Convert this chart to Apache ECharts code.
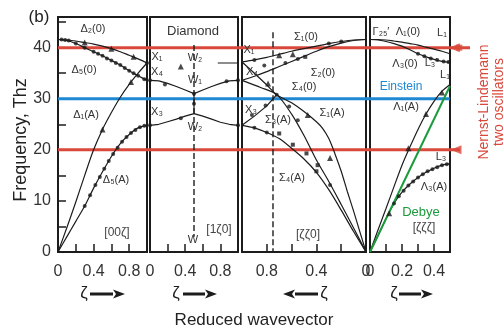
<!DOCTYPE html>
<html>
<head>
<meta charset="utf-8">
<script src="https://cdn.jsdelivr.net/npm/echarts/dist/echarts.min.js"></script>
<style>
  html, body { margin: 0; padding: 0; background: #fff; }
  #chart { width: 504px; height: 333px; }
</style>
</head>
<body>
<div id="chart"></div>
<script>
// ---- data (THz vs reduced wavevector) ----
// [00ζ]  Γ -> X
const zeta1 = [0, 0.1, 0.2, 0.3, 0.4, 0.5, 0.6, 0.7, 0.8, 0.9, 1.0];
const d2O = [41.6, 41.5, 41.3, 41.0, 40.7, 40.3, 39.8, 39.2, 38.5, 37.8, 37.0];
const d5O = [41.6, 41.4, 40.8, 40.0, 39.2, 38.4, 37.5, 36.6, 35.5, 34.5, 33.6];
const d1A = [0, 4.8, 9.8, 15.0, 20.0, 24.0, 27.3, 30.3, 32.8, 35.0, 37.0];
const d5A = [0, 3.0, 6.0, 9.0, 12.5, 15.7, 18.7, 21.2, 23.0, 24.3, 24.8];
const p1Dots = [[0.04, 41.6], [0.08, 41.5], [0.12, 41.4], [0.2, 40.8], [0.3, 40.0], [0.4, 39.2], [0.45, 38.8], [0.5, 38.4], [0.55, 37.9], [0.6, 37.5], [0.65, 37.0], [0.7, 36.6], [0.75, 36.0], [0.8, 35.5], [0.85, 35.0], [0.9, 34.5], [0.97, 33.8],
  [0.3, 9.0], [0.36, 11.1], [0.42, 13.1], [0.47, 14.7], [0.52, 16.3], [0.57, 17.8], [0.62, 19.2], [0.67, 20.4], [0.72, 21.6], [0.77, 22.5], [0.82, 23.3], [0.87, 23.9], [0.92, 24.4], [0.97, 24.7], [1.0, 37.0]];
const p1Tri = [[0.3, 41.0], [0.6, 39.8], [0.85, 38.2], [0.5, 24.0], [0.82, 33.3]];

// [1ζ0]  X -> W -> X
const zeta2 = [0, 0.1, 0.2, 0.3, 0.4, 0.5, 0.6, 0.7, 0.8, 0.9, 1.0];
const w1Branch = [33.6, 33.5, 33.0, 32.4, 31.7, 31.0, 31.7, 32.4, 33.0, 33.5, 33.6];
const w2Branch = [24.8, 25.0, 25.5, 26.0, 26.6, 27.1, 26.6, 26.0, 25.4, 25.0, 24.8];
const w2Upper = [[0.77, 37.0], [1.0, 37.0]];
const wStem = [[0.5, 27.1], [0.5, 31.0]];
const p2Dots = [[0, 33.6], [0, 24.8], [1, 33.6], [1, 24.8], [0.17, 32.8], [0.87, 33.4], [0.35, 26.2], [0.5, 29.0], [0.5, 31.0]];
const p2Tri = [[0.35, 36.3]];

// [ζζ0]  Γ -> K -> X (drawn right to left)
const zeta3 = [0, 0.1, 0.2, 0.3, 0.4, 0.5, 0.6, 0.7, 0.8, 0.9, 1.0];
const s1O = [41.6, 41.5, 41.2, 40.8, 40.3, 39.8, 39.3, 38.7, 38.1, 37.6, 37.2];
const s2O = [41.6, 41.4, 40.9, 40.2, 39.3, 38.3, 37.3, 36.3, 35.3, 34.4, 33.6];
const s4A = [0, 4.0, 8.2, 12.2, 15.6, 18.2, 20.3, 22.2, 23.4, 24.3, 24.8];
const s1AZeta = [1.0, 0.9, 0.8, 0.72, 0.6, 0.5, 0.4, 0.35, 0.3, 0.25, 0.2, 0.15, 0.1, 0.05, 0];
const s1A = [37.2, 35.0, 32.7, 30.8, 29.2, 27.5, 25.5, 24.2, 22.2, 19.2, 15.8, 11.8, 8.0, 4.0, 0];
const s3AZeta = [1.0, 0.85, 0.72, 0.6, 0.5, 0.4, 0.3, 0.2, 0.1, 0];
const s3A = [33.6, 32.2, 30.8, 27.0, 22.8, 18.0, 13.8, 9.3, 4.7, 0];
const x3UpZeta = [1.0, 0.9, 0.8, 0.72];
const x3Up = [24.8, 26.6, 28.6, 30.8];
const p3Sq = [[0.70, 23.2], [0.59, 21.0], [0.48, 19.3], [0.39, 17.0], [0.40, 15.8], [0.49, 38.2]];
const p3Tri = [[0.70, 38.5], [0.59, 38.7], [0.79, 33.0], [0.47, 26.8], [0.29, 18.4]];
const p3Dots = [[0.9, 37.6], [0.82, 36.5], [0.65, 37.0], [0.55, 37.8], [0.3, 40.8], [0.2, 41.2], [0.92, 26.8], [0.81, 28.7], [0.72, 30.8], [0.62, 28.5], [0.55, 25.8], [0.29, 13.1], [0.9, 24.3], [0.8, 23.4]];

// [ζζζ]  Γ -> L
const zeta4 = [0, 0.05, 0.1, 0.15, 0.2, 0.25, 0.3, 0.35, 0.4, 0.45, 0.5];
const l1O = [41.6, 41.6, 41.5, 41.3, 41.1, 40.8, 40.5, 40.1, 39.7, 39.3, 38.8];
const l3O = [41.6, 41.5, 41.2, 40.8, 40.3, 39.6, 38.8, 38.2, 37.7, 37.3, 37.1];
const l1A = [0, 4.3, 8.5, 12.8, 17.0, 20.6, 24.0, 27.0, 29.5, 31.5, 32.8];
const l3A = [0, 3.2, 6.5, 9.5, 11.7, 13.3, 14.6, 15.6, 16.4, 17.0, 17.3];
const debyeZeta = [0, 0.5];
const debye = [0, 32.5];
const p4Dots = [[0.15, 9.5], [0.18, 10.9], [0.21, 12.0], [0.24, 13.0], [0.27, 13.8], [0.3, 14.6], [0.33, 15.2], [0.36, 15.8], [0.39, 16.2], [0.42, 16.6], [0.45, 17.0], [0.48, 17.2],
  [0.3, 38.8], [0.34, 38.3], [0.38, 37.9], [0.42, 37.6], [0.46, 37.3], [0.49, 37.2]];
const p4Tri = [[0.24, 20.3], [0.35, 27.0], [0.45, 31.2], [0.12, 7.6]];

// reference levels
const nlFreq = [40, 20];      // Nernst-Lindemann two oscillators
const einsteinFreq = 30;

// ---- chart ----
const FONT = '"Liberation Sans", Arial, sans-serif';
const INK = '#1c1c1c';
const RED = '#d9483b';
const BLUE = '#1f88d2';
const GREEN = '#1c9a3c';

const chart = echarts.init(document.getElementById('chart'));

const panels = [
  {left: 58, width: 89},
  {left: 150, width: 88},
  {left: 242, width: 124},
  {left: 370, width: 80}
];
const grid = panels.map(p => ({left: p.left, width: p.width, top: 17, height: 235,
  show: true, borderColor: INK, borderWidth: 2, backgroundColor: 'transparent'}));
grid.push({left: 58, right: 34, top: 17, height: 235, show: false});

function only(list) {
  return v => list.some(t => Math.abs(v - t) < 1e-6) ? String(+(+v).toFixed(1)) : '';
}
function xAx(i, max, interval, labels, inverse) {
  return {gridIndex: i, type: 'value', min: 0, max, interval, inverse: !!inverse,
    axisLine: {show: false}, splitLine: {show: false},
    axisTick: {inside: true, length: 8, lineStyle: {color: INK, width: 1.5}},
    axisLabel: {formatter: only(labels), fontSize: 16, color: '#333', fontFamily: FONT, margin: 12,
      showMinLabel: true, showMaxLabel: true, hideOverlap: false}};
}
const xAxis = [
  xAx(0, 1, 0.2, [0, 0.4, 0.8]),
  xAx(1, 1, 0.2, [0, 0.4, 0.8]),
  xAx(2, 1, 0.2, [0, 0.4, 0.8], true),
  xAx(3, 0.5, 0.1, [0, 0.2, 0.4]),
  {gridIndex: 4, type: 'value', min: 0, max: 1, show: false}
];
const yAxis = grid.map((g, i) => i === 0 ? {
  gridIndex: 0, type: 'value', min: 0, max: 46, interval: 5,
  axisLine: {show: false}, splitLine: {show: false},
  axisTick: {inside: true, length: 8, lineStyle: {color: INK, width: 1.5}},
  axisLabel: {formatter: v => (v % 10 === 0 ? String(v) : ''), fontSize: 16, color: '#333', fontFamily: FONT, margin: 7}
} : {gridIndex: i, type: 'value', min: 0, max: 46, show: false});

const pairs = (xs, ys) => xs.map((x, k) => [x, ys[k]]);
function curve(g, data, extra) {
  return Object.assign({type: 'line', xAxisIndex: g, yAxisIndex: g, data, symbol: 'none', smooth: 0.3,
    lineStyle: {color: INK, width: 1.2}, z: 4, silent: true}, extra || {});
}
function marks(g, data, symbol, size) {
  return {type: 'scatter', xAxisIndex: g, yAxisIndex: g, data, symbol, symbolSize: size,
    itemStyle: {color: INK}, z: 5, silent: true};
}

const series = [
  // reference levels across the whole figure
  curve(4, [[0, nlFreq[0]], [1, nlFreq[0]]], {smooth: false, lineStyle: {color: RED, width: 3}, z: 3}),
  curve(4, [[0, nlFreq[1]], [0.976, nlFreq[1]]], {smooth: false, lineStyle: {color: RED, width: 3}, z: 3}),
  curve(4, [[0, einsteinFreq], [0.951, einsteinFreq]], {smooth: false, lineStyle: {color: BLUE, width: 3}, z: 3}),
  {type: 'scatter', xAxisIndex: 4, yAxisIndex: 4, data: [[0.962, nlFreq[0]], [0.966, nlFreq[1]]], symbol: 'triangle',
    symbolRotate: 90, symbolSize: [9, 11], itemStyle: {color: RED}, z: 3, silent: true},
  {type: 'scatter', xAxisIndex: 4, yAxisIndex: 4, data: [[0.974, nlFreq[0]]], symbol: 'rect',
    symbolSize: 6, itemStyle: {color: RED}, z: 3, silent: true},

  // [00ζ]
  curve(0, pairs(zeta1, d2O)),
  curve(0, pairs(zeta1, d5O)),
  curve(0, pairs(zeta1, d1A)),
  curve(0, pairs(zeta1, d5A)),
  marks(0, p1Dots, 'circle', 4),
  marks(0, p1Tri, 'triangle', 6),

  // [1ζ0]
  curve(1, pairs(zeta2, w1Branch), {smooth: false}),
  curve(1, pairs(zeta2, w2Branch), {smooth: false}),
  curve(1, w2Upper, {smooth: false}),
  curve(1, wStem, {smooth: false}),
  curve(1, [[0.5, 40.5], [0.5, 3]], {smooth: false, lineStyle: {color: INK, width: 1.4, type: [6, 3]}}),
  marks(1, p2Dots, 'circle', 4),
  marks(1, p2Tri, 'triangle', 6),

  // [ζζ0]
  curve(2, pairs(zeta3, s1O)),
  curve(2, pairs(zeta3, s2O)),
  curve(2, pairs(zeta3, s4A)),
  curve(2, pairs(s1AZeta, s1A)),
  curve(2, pairs(s3AZeta, s3A)),
  curve(2, pairs(x3UpZeta, x3Up), {smooth: false}),
  curve(2, [[0.75, 43], [0.75, 0]], {smooth: false, lineStyle: {color: INK, width: 1.4, type: [6, 3]}}),
  marks(2, p3Sq, 'rect', 4),
  marks(2, p3Tri, 'triangle', 6),
  marks(2, p3Dots, 'circle', 4),

  // [ζζζ]
  curve(3, pairs(zeta4, l1O)),
  curve(3, pairs(zeta4, l3O)),
  curve(3, pairs(zeta4, l1A)),
  curve(3, pairs(zeta4, l3A)),
  curve(3, pairs(debyeZeta, debye), {smooth: false, lineStyle: {color: GREEN, width: 2}}),
  marks(3, p4Dots, 'circle', 4),
  marks(3, p4Tri, 'triangle', 6)
];

// annotations
const labels = [
  [93, 29, 'Δ₂(0)'], [84, 70, 'Δ₅(0)'], [86, 115, 'Δ₁(A)'], [116, 180, 'Δ₅(A)'], [117, 233, '[00ζ]', '#444', 12],
  [193, 31, 'Diamond', '#333', 13], [157, 57, 'X₁'], [195, 58, 'W₂'], [157, 72, 'X₄'], [195, 80, 'W₁'],
  [157, 112, 'X₃'], [195, 127, 'W₂'], [193, 240, 'W'], [219, 230, '[1ζ0]', '#444', 12],
  [249, 50, 'X₁'], [306, 37, 'Σ₁(0)'], [252, 72, 'X₄'], [323, 73, 'Σ₂(0)'], [304, 87, 'Σ₄(0)'],
  [251, 110, 'X₃'], [278, 120, 'Σ₃(A)'], [332, 113, 'Σ₁(A)'], [292, 178, 'Σ₄(A)'], [308, 235, '[ζζ0]', '#444', 12],
  [381, 32, 'Γ₂₅′'], [408, 32, 'Λ₁(0)'], [442, 33, 'L₁'], [405, 64, 'Λ₃(0)'], [431, 63, 'L₃′'], [445, 75, 'L₁'],
  [401, 87, 'Einstein', BLUE, 12], [406, 107, 'Λ₁(A)'], [441, 157, 'L₃'], [434, 187, 'Λ₃(A)'],
  [421, 212, 'Debye', GREEN, 13], [424, 228, '[ζζζ]', '#444', 12]
];
const graphic = labels.map(([x, y, t, c, s]) => ({type: 'text', x, y, z: 20, silent: true,
  style: {text: t, fill: c || '#333', fontSize: s || 11, fontFamily: FONT, align: 'center', verticalAlign: 'middle'}}));

function zetaArrow(xz, x0, x1, y) {
  const dir = Math.sign(x1 - x0), head = 12;
  return [
    {type: 'text', x: xz, y: y - 1, silent: true, style: {text: 'ζ', fill: INK, fontSize: 17, fontFamily: FONT, align: 'center', verticalAlign: 'middle'}},
    {type: 'line', silent: true, shape: {x1: x0, y1: y, x2: x1 - dir * head, y2: y}, style: {stroke: INK, lineWidth: 3}},
    {type: 'polygon', silent: true, shape: {points: [[x1, y], [x1 - dir * head, y - 4.5], [x1 - dir * head * 0.75, y], [x1 - dir * head, y + 4.5]]}, style: {fill: INK}}
  ];
}
graphic.push(...zetaArrow(84, 90, 125, 294), ...zetaArrow(176, 183, 217, 294),
  ...zetaArrow(324, 318, 283, 294), ...zetaArrow(394, 399, 433, 294));

graphic.push(
  {type: 'text', x: 39, y: 17, style: {text: '(b)', fill: '#222', fontSize: 17, fontFamily: FONT, align: 'center', verticalAlign: 'middle'}},
  {type: 'text', x: 21, y: 140, rotation: Math.PI / 2, style: {text: 'Frequency, Thz', fill: '#222', fontSize: 18, fontFamily: FONT, align: 'center', verticalAlign: 'middle'}},
  {type: 'text', x: 254, y: 320, style: {text: 'Reduced wavevector', fill: '#222', fontSize: 17, fontFamily: FONT, align: 'center', verticalAlign: 'middle'}},
  {type: 'text', x: 492, y: 102, rotation: Math.PI / 2, style: {text: 'Nernst-Lindemann\ntwo oscillators', fill: RED, fontSize: 14, lineHeight: 15, fontFamily: FONT, align: 'center', verticalAlign: 'middle'}}
);

chart.setOption({
  animation: false,
  backgroundColor: '#fff',
  grid, xAxis, yAxis, series, graphic
});
</script>
</body>
</html>
